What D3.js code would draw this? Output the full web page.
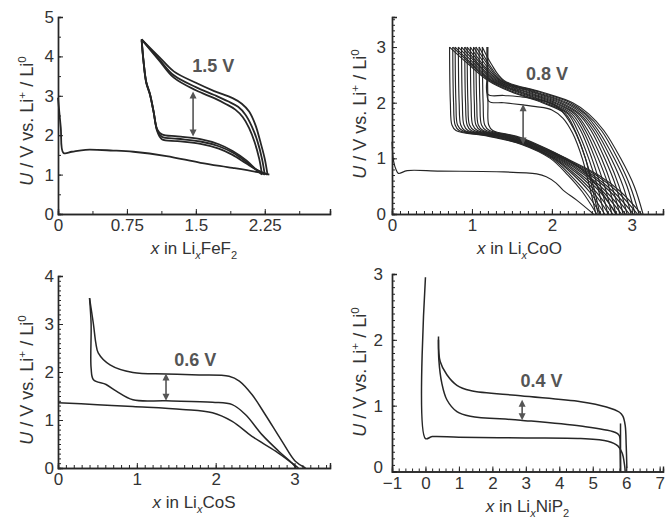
<!DOCTYPE html>
<html>
<head>
<meta charset="utf-8">
<style>
  body { margin: 0; background: #fff; }
  svg { display: block; font-family: "Liberation Sans", Arial, sans-serif; }
</style>
</head>
<body>
<div id="chart"></div>
<script src="https://cdnjs.cloudflare.com/ajax/libs/d3/7.8.5/d3.min.js"></script>
<script>
  const width = 665;
  const height = 518;

  // ---- Panel (a): LixFeF2, points are [x, U]
  const fefFirst = [[0,2.95],[0.03,2.2],[0.06,1.55],[0.15,1.58],[0.3,1.63],[0.6,1.61],[0.82,1.58],
    [1.18,1.47],[1.55,1.3],[1.9,1.17],[2.2,1.05],[2.3,1.0]];
  const fefCharge = [
    [[2.28,1.0],[2.25,1.4],[2.2,1.85],[2.15,2.25],[2.08,2.6],[2.0,2.8],[1.9,2.94],[1.7,3.12],[1.5,3.33],[1.26,3.62],[1.1,3.99],[0.91,4.43]],
    [[2.25,1.0],[2.22,1.4],[2.17,1.85],[2.11,2.22],[2.04,2.52],[1.96,2.72],[1.85,2.86],[1.7,3.02],[1.5,3.22],[1.26,3.52],[1.1,3.93],[0.91,4.43]],
    [[2.22,1.0],[2.19,1.4],[2.14,1.82],[2.08,2.18],[2.01,2.46],[1.93,2.65],[1.82,2.8],[1.7,2.94],[1.5,3.14],[1.26,3.46],[1.1,3.9],[0.91,4.43]]
  ];
  const fefDischarge = [
    [[0.91,4.43],[0.93,3.9],[0.96,3.35],[1.0,3.05],[1.04,2.6],[1.08,2.1],[1.13,1.9],[1.3,1.85],[1.55,1.78],[1.75,1.66],[1.9,1.5],[2.05,1.28],[2.18,1.1],[2.28,1.0]],
    [[0.91,4.43],[0.93,3.9],[0.96,3.35],[1.0,3.05],[1.04,2.6],[1.08,2.12],[1.13,1.96],[1.3,1.91],[1.55,1.84],[1.75,1.72],[1.9,1.56],[2.05,1.32],[2.16,1.12],[2.25,1.0]],
    [[0.91,4.4],[0.93,3.88],[0.96,3.33],[1.0,3.03],[1.04,2.6],[1.08,2.15],[1.13,2.02],[1.3,1.97],[1.55,1.9],[1.75,1.77],[1.9,1.6],[2.05,1.36],[2.15,1.14],[2.22,1.0]]
  ];
  const fefArrow = [1.47, 3.11, 1.97];
  const fefLabel = [1.69, 3.6, "1.5 V"];

  // ---- Panel (b): LixCoO
  const cooFirst = [[0,1.3],[0.02,0.95],[0.05,0.8],[0.08,0.73],[0.19,0.78],[0.6,0.77],[1.31,0.76],
    [1.81,0.72],[1.93,0.67],[2.05,0.56],[2.14,0.43],[2.31,0.25],[2.52,0]];
  // charge curves: x read at fixed voltage levels, one row per cycle
  const cooChargeU = [0, 0.5, 1.0, 1.5, 1.8, 2.0, 2.2, 2.4, 2.7, 3.0];
  const cooChargeX = [
    [2.60,2.52,2.42,2.29,2.17,1.88,1.48,1.20,0.95,0.72],
    [2.65,2.57,2.46,2.32,2.20,1.91,1.51,1.22,0.98,0.76],
    [2.70,2.61,2.50,2.36,2.22,1.95,1.55,1.24,1.00,0.79],
    [2.75,2.66,2.54,2.39,2.25,1.98,1.58,1.25,1.03,0.83],
    [2.80,2.71,2.58,2.42,2.28,2.02,1.61,1.27,1.06,0.87],
    [2.85,2.75,2.62,2.45,2.30,2.05,1.65,1.29,1.08,0.91],
    [2.89,2.80,2.66,2.49,2.33,2.09,1.68,1.31,1.11,0.94],
    [2.94,2.84,2.70,2.52,2.35,2.12,1.72,1.33,1.13,0.98],
    [2.99,2.89,2.74,2.55,2.38,2.16,1.75,1.35,1.16,1.02],
    [3.04,2.94,2.78,2.58,2.41,2.19,1.78,1.36,1.19,1.05],
    [3.09,2.98,2.82,2.62,2.43,2.23,1.82,1.38,1.21,1.09],
    [3.14,3.03,2.86,2.65,2.46,2.26,1.85,1.40,1.24,1.13]
  ];
  const cooDischargeU = [3.0, 2.0, 1.6, 1.5, 1.4, 1.25, 1.0, 0.7, 0.4, 0];
  const cooDischargeX = [
    [0.72,0.73,0.75,0.80,1.20,1.62,1.98,2.20,2.38,2.56],
    [0.76,0.77,0.79,0.84,1.23,1.64,2.00,2.23,2.42,2.61],
    [0.79,0.80,0.82,0.88,1.26,1.65,2.02,2.27,2.47,2.66],
    [0.83,0.84,0.86,0.91,1.29,1.67,2.03,2.30,2.51,2.71],
    [0.87,0.88,0.90,0.95,1.32,1.69,2.05,2.34,2.55,2.76],
    [0.91,0.92,0.94,0.99,1.35,1.70,2.07,2.37,2.60,2.81],
    [0.94,0.95,0.97,1.03,1.37,1.72,2.09,2.41,2.64,2.87],
    [0.98,0.99,1.01,1.07,1.40,1.73,2.11,2.44,2.68,2.92],
    [1.02,1.03,1.05,1.11,1.43,1.75,2.13,2.48,2.73,2.97],
    [1.05,1.06,1.08,1.14,1.46,1.77,2.14,2.51,2.77,3.02],
    [1.09,1.10,1.12,1.18,1.49,1.78,2.16,2.55,2.82,3.07],
    [1.13,1.14,1.16,1.22,1.52,1.80,2.18,2.58,2.86,3.12],
    [1.19,1.20,1.21,1.26,1.55,1.82,2.17,2.45,2.62,2.80]
  ];
  // first charges sit lower, near 2.0-2.15 V
  const cooEarlyCharge = [
    [[2.58,0],[2.50,0.5],[2.42,1.0],[2.30,1.45],[2.18,1.75],[2.05,1.95],[1.85,2.05],[1.64,2.1],[1.4,2.13],[1.2,2.15],[1.19,2.5],[1.19,3.0]],
    [[2.55,0],[2.47,0.5],[2.38,1.0],[2.26,1.45],[2.14,1.72],[2.0,1.87],[1.8,1.93],[1.64,1.96],[1.4,2.0],[1.21,2.03],[1.2,2.5],[1.2,3.0]]
  ];
  const cooArrow = [1.64, 1.97, 1.25];
  const cooLabel = [1.94, 2.41, "0.8 V"];

  // ---- Panel (c): LixCoS
  const cosFirst = [[0,1.36],[0.5,1.32],[0.95,1.28],[1.58,1.22],[1.96,1.15],[2.21,0.97],[2.46,0.66],
    [2.76,0.35],[2.97,0.1],[3.05,0]];
  const cosCharge = [[3.14,0],[3.01,0.14],[2.84,0.56],[2.63,1.11],[2.46,1.53],[2.3,1.81],[2.17,1.91],
    [1.79,1.94],[1.37,1.96],[0.95,1.99],[0.66,2.15],[0.51,2.4],[0.48,2.6],[0.45,2.99],[0.4,3.54]];
  const cosDischarge = [[0.4,3.54],[0.42,3.0],[0.42,2.08],[0.45,1.84],[0.61,1.74],[0.74,1.6],[0.95,1.42],
    [1.37,1.4],[1.96,1.37],[2.21,1.32],[2.38,1.11],[2.59,0.69],[2.8,0.35],[2.97,0.1],[3.02,0]];
  const cosArrow = [1.37, 1.97, 1.4];
  const cosLabel = [1.74, 2.13, "0.6 V"];

  // ---- Panel (d): LixNiP2
  const nipFirst = [[0,2.95],[0,0.5],[0.2,0.53],[1,0.52],[3,0.51],[4.64,0.5],[5.45,0.46],[5.75,0.39],
    [5.88,0.28],[5.95,0.1],[5.97,0]];
  const nipDischarge = [[0.39,2.05],[0.4,1.7],[0.49,1.34],[0.64,1.09],[0.94,0.91],[1.34,0.84],[2.84,0.78],
    [4.64,0.69],[5.64,0.6],[5.79,0.55],[5.82,0.3],[5.83,0]];
  const nipStep = [[5.83,0],[5.83,0.73]];
  const nipCharge = [[6.02,0.05],[6.0,0.4],[5.97,0.7],[5.9,0.84],[5.8,0.9],[5.41,0.98],[4.64,1.06],
    [2.84,1.15],[1.34,1.23],[0.94,1.31],[0.64,1.47],[0.44,1.67],[0.39,2.0]];
  const nipArrow = [2.89, 1.09, 0.78];
  const nipLabel = [3.47, 1.28, "0.4 V"];

  // tick labels
  const fefTicks = [0, 0.75, 1.5, 2.25];
  const fefTickLabels = ["0", "0.75", "1.5", "2.25"];
  const fefUTicks = [0, 1, 2, 3, 4, 5];
  const cooTicks = [0, 1, 2, 3];
  const cooUTicks = [0, 1, 2, 3];
  const cosTicks = [0, 1, 2, 3];
  const cosUTicks = [0, 1, 2, 3, 4];
  const nipTicks = [-1, 0, 1, 2, 3, 4, 5, 6, 7];
  const nipTickLabels = ["\u22121", "0", "1", "2", "3", "4", "5", "6", "7"];
  const nipUTicks = [0, 1, 2, 3];

  const svg = d3.create("svg")
    .attr("width", width)
    .attr("height", height)
    .attr("viewBox", [0, 0, width, height]);

  const ink = "#262626";

  // writes text made of parts: {t, i (italic), sub, sup}
  function richText(sel, parts, size) {
    let shift = 0;
    parts.forEach(p => {
      const want = p.sub ? size * 0.3 : p.sup ? -size * 0.4 : 0;
      const ts = sel.append("tspan")
        .attr("dy", want - shift)
        .attr("font-size", (p.sub || p.sup) ? size * 0.65 : size)
        .text(p.t);
      if (p.i) ts.attr("font-style", "italic");
      shift = want;
    });
  }

  const yTitle = [
    {t: "U", i: true}, {t: " / V vs. Li"}, {t: "+", sup: true}, {t: " / Li"}, {t: "0", sup: true}
  ];

  function drawPanel(cfg) {
    const x = d3.scaleLinear().domain(cfg.xDomain).range(cfg.xRange);
    const y = d3.scaleLinear().domain(cfg.yDomain).range(cfg.yRange);
    const g = svg.append("g");

    const line = d3.line()
      .x(d => x(d[0]))
      .y(d => y(d[1]))
      .curve(d3.curveCatmullRom.alpha(0.5));

    g.append("g")
      .attr("fill", "none")
      .attr("stroke", ink)
      .attr("stroke-linejoin", "round")
      .selectAll("path")
      .data(cfg.series)
      .join("path")
      .attr("stroke-width", cfg.lineWidth)
      .attr("d", line);

    // double-headed arrow
    const [ax, a0, a1] = cfg.arrow;
    g.append("line")
      .attr("x1", x(ax)).attr("x2", x(ax))
      .attr("y1", y(a0) + 4).attr("y2", y(a1) - 4)
      .attr("stroke", "#555").attr("stroke-width", 1.6);
    [[a0, 1], [a1, -1]].forEach(([v, dir]) => {
      const px = x(ax), py = y(v);
      g.append("path")
        .attr("d", `M${px},${py} L${px - 3.5},${py + dir * 7} L${px + 3.5},${py + dir * 7} Z`)
        .attr("fill", "#555");
    });

    const [lx, ly, lt] = cfg.label;
    g.append("text")
      .attr("x", x(lx)).attr("y", y(ly))
      .attr("text-anchor", "middle")
      .attr("font-size", 18)
      .attr("font-weight", "bold")
      .attr("fill", "#555")
      .text(lt);

    // axes: ticks point inward
    const xAxis = d3.axisBottom(x)
      .tickValues(cfg.xMinor)
      .tickSize(-3)
      .tickFormat("");
    g.append("g").attr("transform", `translate(0,${cfg.yRange[0]})`).call(xAxis);
    const xMajor = d3.axisBottom(x)
      .tickValues(cfg.xTicks)
      .tickSize(-5)
      .tickPadding(5)
      .tickFormat((d, i) => cfg.xTickLabels ? cfg.xTickLabels[i] : d3.format("d")(d));
    g.append("g").attr("transform", `translate(0,${cfg.yRange[0]})`).call(xMajor);

    const yAxis = d3.axisLeft(y)
      .tickValues(cfg.yMinor)
      .tickSize(-3)
      .tickFormat("");
    g.append("g").attr("transform", `translate(${cfg.xRange[0]},0)`).call(yAxis);
    const yMajor = d3.axisLeft(y)
      .tickValues(cfg.yTicks)
      .tickSize(-5)
      .tickPadding(cfg.yPad)
      .tickFormat(d3.format("d"));
    const yg = g.append("g").attr("transform", `translate(${cfg.xRange[0]},0)`).call(yMajor);
    // the zero label sits a little high so it clears the x labels
    yg.selectAll(".tick").filter(d => d === 0).select("text").attr("dy", cfg.zeroDy);

    g.selectAll(".domain").attr("stroke", ink).attr("stroke-width", 1.4);
    g.selectAll(".tick line").attr("stroke", ink).attr("stroke-width", 1);
    g.selectAll(".tick text")
      .attr("font-size", 17)
      .attr("font-family", "Liberation Sans, Arial, sans-serif")
      .attr("fill", "#333");

    // axis titles
    const xt = g.append("text")
      .attr("x", (cfg.xRange[0] + cfg.xRange[1]) / 2 + cfg.titleShift)
      .attr("y", cfg.yRange[0] + 40)
      .attr("text-anchor", "middle")
      .attr("fill", "#333");
    richText(xt, cfg.xTitle, 17);

    const yt = g.append("text")
      .attr("transform", `translate(${cfg.yTitleX},${cfg.yTitleY}) rotate(-90)`)
      .attr("text-anchor", "middle")
      .attr("fill", "#333");
    richText(yt, yTitle, 18);
  }

  const range = (a, b, s) => d3.range(Math.round(a / s), Math.round(b / s) + 1).map(k => +(k * s).toFixed(3));

  drawPanel({
    xDomain: [0, 2.96], xRange: [58, 330], yDomain: [0, 5], yRange: [214, 17],
    series: [fefFirst, ...fefCharge, ...fefDischarge], lineWidth: 1.8,
    arrow: fefArrow, label: fefLabel,
    xTicks: fefTicks, xTickLabels: fefTickLabels, xMinor: range(0, 2.625, 0.375),
    yTicks: fefUTicks, yMinor: range(0, 5, 0.5), yPad: 4, zeroDy: "0.32em",
    xTitle: [{t: "x", i: true}, {t: " in Li"}, {t: "x", i: true, sub: true}, {t: "FeF"}, {t: "2", sub: true}],
    titleShift: 0, yTitleX: 33, yTitleY: 121
  });

  const cooCharges = cooChargeX.map(row => row.map((v, i) => [v, cooChargeU[i]]));
  const cooDischarges = cooDischargeX.map(row => row.map((v, i) => [v, cooDischargeU[i]]));
  drawPanel({
    xDomain: [0, 3.39], xRange: [392, 663], yDomain: [0, 3.54], yRange: [214, 17],
    series: [cooFirst, ...cooCharges, ...cooEarlyCharge, ...cooDischarges], lineWidth: 1.15,
    arrow: cooArrow, label: cooLabel,
    xTicks: cooTicks, xMinor: range(0, 3.3, 0.1),
    yTicks: cooUTicks, yMinor: range(0, 3.5, 0.1), yPad: 6, zeroDy: "0.32em",
    xTitle: [{t: "x", i: true}, {t: " in Li"}, {t: "x", i: true, sub: true}, {t: "CoO"}],
    titleShift: -8, yTitleX: 366, yTitleY: 114
  });

  drawPanel({
    xDomain: [0, 3.45], xRange: [58, 330], yDomain: [0, 4], yRange: [468, 276],
    series: [cosFirst, cosCharge, cosDischarge], lineWidth: 1.5,
    arrow: cosArrow, label: cosLabel,
    xTicks: cosTicks, xMinor: range(0, 3.4, 0.1),
    yTicks: cosUTicks, yMinor: range(0, 4, 0.1), yPad: 4, zeroDy: "0.32em",
    xTitle: [{t: "x", i: true}, {t: " in Li"}, {t: "x", i: true, sub: true}, {t: "CoS"}],
    titleShift: 0, yTitleX: 33, yTitleY: 380
  });

  drawPanel({
    xDomain: [-1, 7.1], xRange: [392, 663], yDomain: [0, 3], yRange: [471.5, 274],
    series: [nipFirst, nipDischarge, nipStep, nipCharge], lineWidth: 1.5,
    arrow: nipArrow, label: nipLabel,
    xTicks: nipTicks, xTickLabels: nipTickLabels, xMinor: range(-1, 7, 0.2),
    yTicks: nipUTicks, yMinor: range(0, 3, 0.1), yPad: 9, zeroDy: "0.05em",
    xTitle: [{t: "x", i: true}, {t: " in Li"}, {t: "x", i: true, sub: true}, {t: "NiP"}, {t: "2", sub: true}],
    titleShift: 0, yTitleX: 366, yTitleY: 372
  });

  d3.select("#chart").node().appendChild(svg.node());
</script>
</body>
</html>
